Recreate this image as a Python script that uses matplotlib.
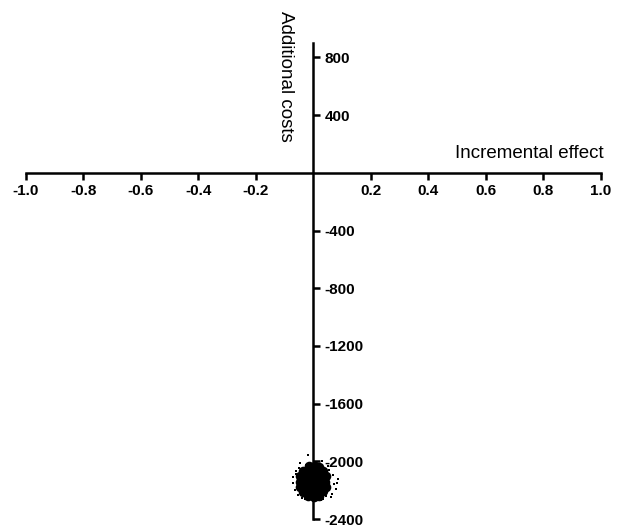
"""
Cost-effectiveness plane: incremental effect vs additional costs.
"""

import matplotlib.pyplot as plt

plt.rcParams["font.family"] = ["Liberation Sans", "DejaVu Sans"]

X_TICKS = [-1.0, -0.8, -0.6, -0.4, -0.2, 0.2, 0.4, 0.6, 0.8, 1.0]
Y_TICKS = [800, 400, -400, -800, -1200, -1600, -2000, -2400]

# dense core of the bootstrap cloud (effect, cost)
core_effect = [-0.015, 0.005, 0.020,
               -0.035, -0.015, 0.000, 0.015, 0.035,
               -0.045, -0.025, -0.008, 0.010, 0.028, 0.045,
               -0.048, -0.030, -0.012, 0.005, 0.022, 0.040,
               -0.045, -0.025, -0.008, 0.010, 0.028, 0.044,
               -0.035, -0.015, 0.000, 0.018, 0.034,
               -0.018, 0.002, 0.020]
core_cost = [-2035, -2030, -2040,
             -2065, -2060, -2058, -2062, -2070,
             -2100, -2098, -2095, -2096, -2100, -2105,
             -2140, -2138, -2142, -2140, -2138, -2142,
             -2178, -2180, -2182, -2180, -2178, -2175,
             -2212, -2215, -2218, -2214, -2208,
             -2240, -2245, -2238]

# scattered replicates around the core
edge_effect = [-0.020, -0.045, 0.030, 0.050, -0.060, 0.070, 0.085, 0.078,
               -0.070, -0.065, 0.065, -0.055, -0.030, 0.000, 0.035, -0.072,
               0.072, 0.055, -0.050, 0.060, 0.010, -0.010, 0.045, -0.040,
               0.082, -0.062, 0.025, -0.025]
edge_cost = [-1955, -2015, -2000, -2030, -2070, -2095, -2120, -2190,
             -2150, -2200, -2225, -2235, -2262, -2275, -2258, -2110,
             -2160, -2060, -2045, -2250, -2005, -2010, -2240, -2255,
             -2150, -2090, -2270, -2025]

fig = plt.figure(figsize=(6.18, 5.28), dpi=100)
ax = fig.add_axes([0.042, 0.017, 0.930, 0.9015])

ax.scatter(core_effect, core_cost, s=48, c="black", marker="o", linewidths=0)
ax.scatter(edge_effect, edge_cost, s=4, c="black", marker="s", linewidths=0)

ax.set_xlim(-1.0, 1.0)
ax.set_ylim(-2400, 900)

for side in ("top", "left"):
    ax.spines[side].set_visible(False)
ax.spines["bottom"].set_position(("data", 0))
ax.spines["right"].set_position(("data", 0))
ax.spines["bottom"].set_linewidth(1.8)
ax.spines["right"].set_linewidth(1.8)
ax.spines["right"].set_bounds(-2400, 900)

ax.yaxis.tick_right()
ax.set_xticks(X_TICKS)
ax.set_xticklabels([f"{v:.1f}" for v in X_TICKS])
ax.set_yticks(Y_TICKS)
ax.set_yticklabels([str(v) for v in Y_TICKS])
ax.tick_params(axis="both", direction="out", length=5, width=1.8,
               labelsize=11)
ax.tick_params(axis="x", pad=3)
ax.tick_params(axis="y", pad=3)
for lbl in ax.get_xticklabels() + ax.get_yticklabels():
    lbl.set_fontweight("bold")

ax.text(1.01, 75, "Incremental effect", ha="right", va="bottom",
        fontsize=13.5)
ax.text(-0.097, 1120, "Additional costs", rotation=270, ha="center",
        va="top", fontsize=13.5, clip_on=False)

fig.savefig("out.png", dpi=100)
